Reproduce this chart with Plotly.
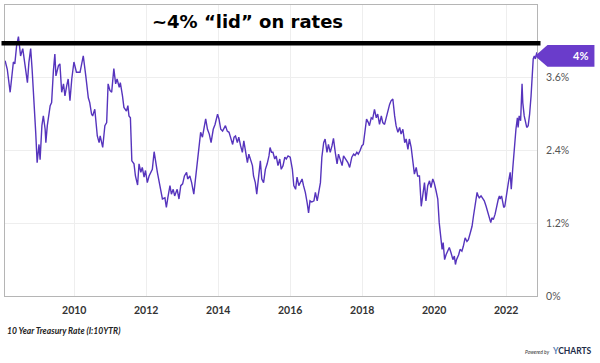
import plotly.graph_objects as go
from datetime import datetime, timedelta

# ---- data (decimal year, 10Y treasury yield %) ----
years = [
2008.08,2008.14,2008.22,2008.26,2008.31,2008.35,2008.40,2008.45,2008.51,2008.57,2008.63,2008.70,2008.74,2008.79,2008.83,2008.88,2008.93,2008.97,
2009.02,2009.05,2009.10,2009.14,2009.19,2009.21,2009.25,2009.33,2009.37,2009.42,2009.46,2009.49,2009.56,2009.60,2009.65,2009.70,2009.74,2009.79,2009.83,2009.88,2009.93,2009.99,
2010.06,2010.16,2010.25,2010.32,2010.39,2010.43,2010.48,2010.51,2010.57,2010.64,2010.69,2010.72,2010.79,2010.85,2010.90,2010.94,2010.99,
2011.04,2011.10,2011.15,2011.19,2011.25,2011.28,2011.34,2011.38,2011.45,2011.49,2011.52,2011.56,2011.60,2011.66,2011.70,2011.76,2011.80,2011.85,2011.89,2011.94,2011.98,
2012.03,2012.08,2012.13,2012.17,2012.22,2012.27,2012.31,2012.38,2012.42,2012.45,2012.52,2012.56,2012.60,2012.66,2012.70,2012.75,2012.79,2012.86,2012.91,2012.96,
2013.01,2013.06,2013.12,2013.15,2013.21,2013.26,2013.32,2013.37,2013.41,2013.47,2013.51,2013.56,2013.61,2013.65,2013.70,2013.75,2013.80,2013.86,2013.91,2013.98,
2014.02,2014.07,2014.12,2014.16,2014.20,2014.25,2014.30,2014.34,2014.40,2014.44,2014.48,2014.53,2014.57,2014.62,2014.67,2014.71,2014.76,2014.81,2014.85,2014.90,2014.95,2014.98,
2015.03,2015.07,2015.12,2015.17,2015.21,2015.26,2015.31,2015.36,2015.41,2015.44,2015.48,2015.52,2015.57,2015.61,2015.66,2015.71,2015.75,2015.80,2015.85,2015.89,2015.94,
2016.00,2016.06,2016.10,2016.15,2016.19,2016.24,2016.28,2016.33,2016.37,2016.42,2016.47,2016.51,2016.55,2016.60,2016.66,2016.70,2016.75,2016.80,2016.84,2016.88,2016.93,2016.97,
2017.02,2017.06,2017.11,2017.16,2017.20,2017.25,2017.30,2017.34,2017.39,2017.44,2017.48,2017.53,2017.60,2017.65,2017.71,2017.76,2017.80,2017.85,2017.89,2017.94,2017.99,
2018.03,2018.08,2018.12,2018.17,2018.20,2018.25,2018.29,2018.34,2018.39,2018.43,2018.48,2018.53,2018.57,2018.62,2018.66,2018.71,2018.76,2018.80,2018.85,2018.90,2018.94,2018.99,
2019.04,2019.08,2019.13,2019.18,2019.22,2019.27,2019.31,2019.36,2019.41,2019.45,2019.50,2019.54,2019.59,2019.64,2019.68,2019.73,2019.77,2019.82,2019.87,2019.91,2019.96,
2020.00,2020.05,2020.10,2020.14,2020.19,2020.22,2020.25,2020.29,2020.33,2020.37,2020.42,2020.47,2020.52,2020.56,2020.59,2020.62,2020.68,2020.72,2020.77,2020.81,2020.86,2020.91,2020.95,
2021.00,2021.05,2021.09,2021.14,2021.19,2021.22,2021.25,2021.30,2021.35,2021.39,2021.44,2021.48,2021.53,2021.57,2021.60,2021.64,2021.69,2021.73,2021.78,2021.81,2021.83,2021.87,2021.93,2021.96,
2022.01,2022.06,2022.11,2022.14,2022.18,2022.22,2022.27,2022.31,2022.33,2022.36,2022.40,2022.44,2022.46,2022.50,2022.54,2022.57,2022.61,2022.65,2022.69,2022.72,2022.75,2022.78,2022.81,2022.85,
]
rates = [
3.88,3.74,3.36,3.57,3.86,3.83,4.13,4.28,3.96,4.08,3.85,3.52,3.85,4.08,3.74,3.30,2.70,2.20,
2.50,2.25,2.81,2.97,2.75,2.53,2.81,3.14,3.19,3.72,3.99,3.63,3.80,3.83,3.36,3.50,3.30,3.47,3.58,3.22,3.58,3.86,
3.69,3.69,3.96,3.63,3.27,3.19,3.00,2.97,3.08,2.64,2.53,2.64,2.45,2.81,2.86,3.50,3.39,
3.36,3.75,3.50,3.58,3.44,3.52,3.30,3.11,3.05,3.14,2.97,2.94,2.23,2.18,1.98,1.83,2.18,2.04,2.12,1.96,2.07,
1.87,1.98,2.04,2.09,2.38,2.15,2.04,1.82,1.71,1.60,1.62,1.46,1.62,1.82,1.68,1.76,1.65,1.76,1.60,1.82,
1.85,1.98,2.04,1.93,1.98,1.87,1.68,1.98,2.15,2.53,2.70,2.62,2.81,2.92,2.75,2.67,2.53,2.75,2.83,3.00,
2.92,2.75,2.72,2.78,2.81,2.72,2.70,2.62,2.50,2.62,2.64,2.53,2.62,2.48,2.37,2.56,2.39,2.20,2.34,2.26,2.15,1.98,
1.87,1.68,1.93,2.23,1.93,1.87,2.09,2.18,2.31,2.45,2.37,2.37,2.26,2.31,2.15,2.26,2.09,2.15,2.29,2.26,2.31,
2.29,2.09,1.82,1.76,1.96,1.82,1.87,1.93,1.82,1.71,1.54,1.37,1.57,1.55,1.57,1.71,1.57,1.76,1.87,2.29,2.53,2.59,
2.37,2.50,2.37,2.48,2.60,2.37,2.18,2.34,2.23,2.15,2.31,2.26,2.20,2.12,2.29,2.34,2.32,2.37,2.34,2.40,2.48,
2.50,2.70,2.92,2.86,2.81,2.94,2.92,3.08,2.94,3.00,2.83,2.97,2.86,2.83,2.94,3.05,3.16,3.22,3.25,2.97,2.81,2.70,
2.78,2.67,2.75,2.53,2.59,2.42,2.59,2.45,2.18,2.01,2.12,1.98,1.98,1.48,1.65,1.87,1.57,1.82,1.90,1.79,1.93,
1.87,1.74,1.60,1.21,0.99,0.77,0.88,0.60,0.68,0.74,0.80,0.71,0.60,0.66,0.52,0.60,0.68,0.77,0.74,0.82,0.96,0.90,0.93,
1.04,1.15,1.32,1.51,1.71,1.65,1.62,1.65,1.60,1.57,1.48,1.40,1.32,1.21,1.29,1.26,1.35,1.48,1.60,1.65,1.60,1.65,1.46,1.48,
1.71,1.87,2.04,1.76,2.09,2.42,2.75,2.94,2.78,2.97,2.89,3.50,3.19,2.97,2.83,2.78,2.81,3.00,3.30,3.63,3.91,3.96,3.91,4.02,
]
tick_years = [2010, 2012, 2014, 2016, 2018, 2020, 2022]
y_ticks = [0, 1.2, 2.4, 3.6]
y_tick_labels = ["0%", "1.2%", "2.4%", "3.6%"]
lid_level = 4.17
lid_text = "~4% \u201clid\u201d on rates"
series_name = "10 Year Treasury Rate (I:10YTR)"

def to_date(y):
    yr = int(y)
    return datetime(yr, 1, 1) + timedelta(days=(y - yr) * 365.25)

dates = [to_date(v) for v in years]

W, H = 600, 363
L, R, T, B = 5, 537.5, 5, 296
def px(x):  # pixel x -> paper
    return (x - L) / (R - L)
def py(y):  # pixel y -> paper
    return (B - y) / (B - T)

LINE = "#5634bd"
FLAG = "#6a3ccb"

fig = go.Figure()
fig.add_trace(go.Scatter(x=dates, y=rates, mode="lines",
                         line=dict(color=LINE, width=1.4), hoverinfo="skip"))

last = rates[-1]
flag_y = last - 0.06
h = 0.18
fig.add_shape(type="path", xref="paper", yref="y",
              path=(f"M {px(535.5)},{flag_y} L {px(548)},{flag_y+h} L {px(595)},{flag_y+h} "
                    f"L {px(595)},{flag_y-h} L {px(548)},{flag_y-h} Z"),
              fillcolor=FLAG, line=dict(width=0), layer="above")
fig.add_annotation(xref="paper", yref="y", x=px(591), y=flag_y, xanchor="right", yanchor="middle",
                   text=f"<b>{round(last)}%</b>", showarrow=False,
                   font=dict(color="white", size=11, family="Lato"))

fig.add_shape(type="line", xref="paper", yref="y", x0=px(1.5), x1=px(541),
              y0=lid_level, y1=lid_level, line=dict(color="black", width=4.5), layer="above")
fig.add_annotation(xref="paper", yref="paper", x=px(248), y=py(21), xanchor="center", yanchor="middle",
                   text=f"<b>{lid_text}</b>",
                   showarrow=False, font=dict(size=18, family="DejaVu Sans", color="black"))

fig.add_annotation(xref="paper", yref="paper", x=px(5), y=py(331), xanchor="left", yanchor="middle",
                   text=f"<b><i>{series_name}</i></b>", showarrow=False,
                   font=dict(size=8.5, family="Lato", color="#222"))
fig.add_annotation(xref="paper", yref="paper", x=px(553), y=py(351.5), xanchor="right", yanchor="middle",
                   text="<i>Powered by</i>", showarrow=False,
                   font=dict(size=5, family="Lato", color="#333"))
fig.add_annotation(xref="paper", yref="paper", x=px(595), y=py(351), xanchor="right", yanchor="middle",
                   text="<b><span style='color:#5a7fb5'>Y</span>CHARTS</b>", showarrow=False,
                   font=dict(size=8.5, family="Lato", color="#1c2b47"))

fig.update_layout(
    width=W, height=H,
    margin=dict(l=L, r=W - R, t=T, b=H - B),
    paper_bgcolor="white", plot_bgcolor="white",
    showlegend=False,
    xaxis=dict(range=[to_date(2008.077), to_date(2022.855)],
               tickvals=[datetime(y, 1, 1) for y in tick_years],
               ticktext=[f"<b>{y}</b>" for y in tick_years],
               showgrid=True, gridcolor="#eeeeee", gridwidth=1,
               showline=True, linecolor="#b5b5b5", linewidth=1, mirror=True,
               ticks="outside", ticklen=4, tickcolor="rgba(0,0,0,0)",
               tickfont=dict(size=10.5, family="Lato", color="#333"), zeroline=False),
    yaxis=dict(range=[0, 4.80], side="right",
               tickvals=y_ticks, ticktext=y_tick_labels,
               showgrid=True, gridcolor="#eeeeee", gridwidth=1,
               showline=True, linecolor="#b5b5b5", linewidth=1, mirror=True,
               ticks="outside", ticklen=6, tickcolor="rgba(0,0,0,0)",
               tickfont=dict(size=10.5, family="Lato", color="#555"), zeroline=False),
)

fig.write_html("out.html", config={"displayModeBar": False},
               post_script="document.body.style.margin='0';document.body.style.padding='0';")
